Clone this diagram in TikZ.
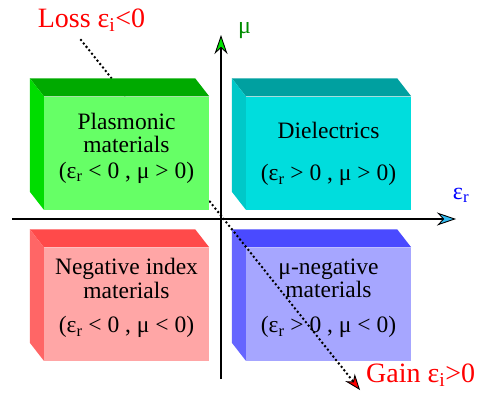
\documentclass[tikz,border=0pt]{standalone}
\usepackage{fontspec}
\setmainfont{Liberation Serif}
\usetikzlibrary{arrows.meta}
\definecolor{plasF}{RGB}{102,255,102}
\definecolor{plasT}{RGB}{0,170,0}
\definecolor{plasS}{RGB}{0,221,0}
\definecolor{dielF}{RGB}{0,221,221}
\definecolor{dielT}{RGB}{0,160,160}
\definecolor{dielS}{RGB}{0,200,200}
\definecolor{negF}{RGB}{255,166,166}
\definecolor{negT}{RGB}{255,74,74}
\definecolor{negS}{RGB}{255,102,102}
\definecolor{mnegF}{RGB}{166,166,255}
\definecolor{mnegT}{RGB}{74,74,255}
\definecolor{mnegS}{RGB}{102,102,255}
\definecolor{mugreen}{RGB}{0,140,0}
\tikzset{
  front/.style={inner sep=0pt, minimum width=165pt, minimum height=113pt},
  boxtxt/.style={align=center, inner sep=0pt, font=\rmfamily\fontsize{23.5}{23.5}\selectfont},
  axis/.style={line width=1.6pt},
  axlbl/.style={inner sep=0pt, anchor=base, font=\rmfamily\fontsize{24}{24}\selectfont},
  note/.style={inner sep=0pt, text=red, font=\rmfamily\fontsize{28}{28}\selectfont},
  track/.style={line width=2.8pt, line cap=round, dash pattern=on 0pt off 4.4pt},
}
% top and side faces of a slab behind its front node
\newcommand{\slab}[3]{%
  \fill[#2] (#1.north west) -- (#1.north east) -- ++(-14,-18)
    -- ([shift={(-14,-18)}]#1.north west) -- cycle;
  \fill[#3] (#1.north west) -- (#1.south west) -- ++(-14,-18)
    -- ([shift={(-14,-18)}]#1.north west) -- cycle;}
\newcommand{\epsr}{ε\textsubscript{r}}

\begin{document}
\begin{tikzpicture}[x=1pt, y=-1pt]
  \useasboundingbox (0,0) rectangle (478,402);

  % lower right: mu-negative
  \node[front, fill=mnegF] (mneg) at (328.5,304) {};
  \slab{mneg}{mnegT}{mnegS}
  \node[boxtxt] (mneg-t) at ([yshift=6pt]mneg.center)
    {μ-negative\\materials\\[11pt](\epsr{} > 0 , μ < 0)};

  % lower left: negative index
  \node[front, fill=negF] (neg) at (126.5,304) {};
  \slab{neg}{negT}{negS}
  \node[boxtxt] (neg-t) at ([yshift=6pt]neg.center)
    {Negative index\\materials\\[11pt](\epsr{} < 0 , μ < 0)};

  % upper right: dielectrics
  \node[front, fill=dielF] (diel) at (328.5,153) {};
  \slab{diel}{dielT}{dielS}
  \node[boxtxt] (diel-t) at ([yshift=-1pt]diel.center)
    {Dielectrics\\[19pt](\epsr{} > 0 , μ > 0)};

  % axes
  \coordinate (xa) at (12,219);
  \coordinate (xb) at (456,219);
  \coordinate (ya) at (221,379);
  \coordinate (yb) at (221,35);
  \draw[axis, -{Stealth[length=19pt, width=13pt, inset=6pt, fill=cyan!80!white, line width=0.9pt]}] (xa) -- (xb);
  \draw[axis, -{Stealth[length=19pt, width=13pt, inset=6pt, fill=green!90!black, line width=0.9pt]}] (ya) -- (yb);
  \node[axlbl, text=mugreen] (mu) at (244.5,33) {μ};
  \node[axlbl, text=blue] (eps) at (461,199) {\epsr};

  % loss / gain line
  \node[note, anchor=base] (loss) at (91.5,27) {Loss ε\textsubscript{i}<0};
  \node[note, anchor=base west] (gain) at (366,382) {Gain ε\textsubscript{i}>0};
  \coordinate (lo) at (81,40);
  \coordinate (hi) at (360,390);
  \draw[track, -{Stealth[length=16pt, width=12pt, inset=5pt, fill=red, line width=0.9pt]}] (lo) -- (hi);

  % upper left: plasmonic
  \node[front, fill=plasF] (plas) at (126.5,153) {};
  \slab{plas}{plasT}{plasS}
  \node[boxtxt] (plas-t) at ([yshift=5pt]plas.center)
    {Plasmonic\\materials\\[2pt](\epsr{} < 0 , μ > 0)};
\end{tikzpicture}
\end{document}
